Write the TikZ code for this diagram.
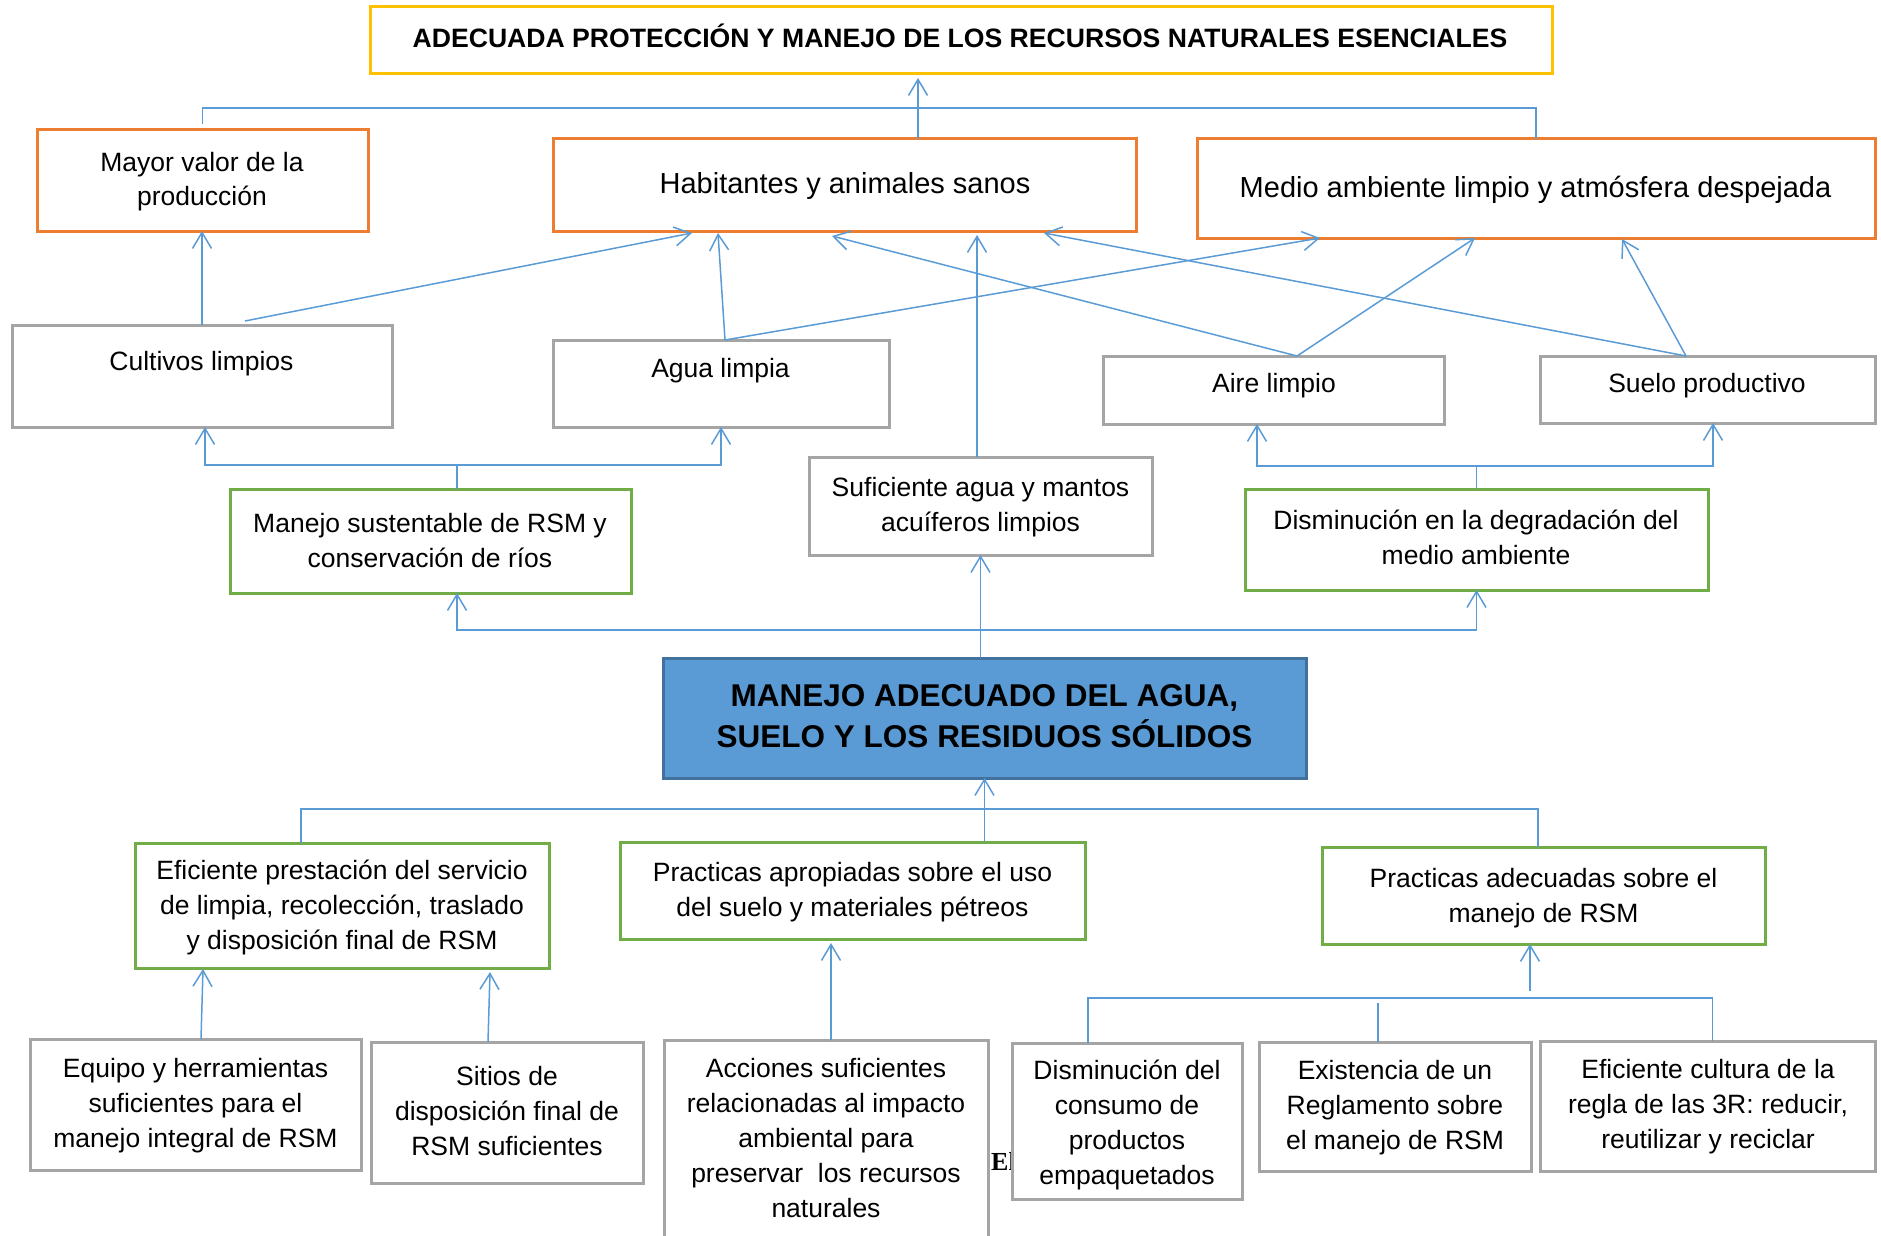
\documentclass[tikz,border=0pt]{standalone}
\usepackage{fontspec}
\setmainfont{Liberation Sans}
\newfontfamily\tnrfont{Liberation Serif}
\usetikzlibrary{arrows.meta}
\definecolor{lnblue}{HTML}{5B9BD5}
\definecolor{bxorange}{HTML}{ED7D31}
\definecolor{bxgreen}{HTML}{70AD47}
\definecolor{bxgray}{HTML}{A5A5A5}
\definecolor{bxgold}{HTML}{FFC000}
\definecolor{bxdark}{HTML}{41719C}
\definecolor{bxfill}{HTML}{5B9BD5}
\newcommand\tl[1]{\begin{tabular}[t]{@{}c@{}}#1\end{tabular}}
\begin{document}
\begin{tikzpicture}[x=1pt,y=-1pt,
 box/.style={draw, line width=3pt, fill=white, inner sep=0pt, outer sep=0pt},
 orbox/.style={box, draw=bxorange},
 grbox/.style={box, draw=bxgreen},
 gybox/.style={box, draw=bxgray},
 gdbox/.style={box, draw=bxgold},
 cenbox/.style={box, draw=bxdark, fill=bxfill},
 txt/.style={inner sep=0pt, outer sep=0pt, anchor=base, font=\fontsize{26.5}{35}\selectfont},
 bigtxt/.style={txt, font=\fontsize{29}{35}\selectfont},
 line/.style={draw=lnblue, line width=1.5pt},
 arr/.style={line, -{Straight Barb[length=16pt,width=19pt]}},
]
\useasboundingbox (0,0) rectangle (1881,1236);
\clip (0,0) rectangle (1881,1236);

% stray fragment partly hidden behind a box
\node[inner sep=0pt, anchor=base west, font=\tnrfont\bfseries\fontsize{26}{30}\selectfont] (frag) at (991,1170) {El};

% boxes
\node[gdbox, minimum width=1182pt, minimum height=67pt] (top) at (961,40.5) {};
\node[orbox, minimum width=331pt, minimum height=101pt] (mayor) at (202.5,180.5) {};
\node[orbox, minimum width=583pt, minimum height=92pt] (hab) at (844.5,185) {};
\node[orbox, minimum width=678pt, minimum height=99pt] (medio) at (1536,188.5) {};
\node[gybox, minimum width=380pt, minimum height=102pt] (cult) at (202,376) {};
\node[gybox, minimum width=336pt, minimum height=87pt] (agua) at (721,383.5) {};
\node[gybox, minimum width=341pt, minimum height=68pt] (aire) at (1273.5,390) {};
\node[gybox, minimum width=335pt, minimum height=67pt] (suelo) at (1707.5,389.5) {};
\node[gybox, minimum width=343pt, minimum height=98pt] (suf) at (980.5,506) {};
\node[grbox, minimum width=401pt, minimum height=104pt] (manejo) at (430.5,541) {};
\node[grbox, minimum width=463pt, minimum height=101pt] (dism) at (1476.5,539.5) {};
\node[cenbox, minimum width=643pt, minimum height=120pt] (central) at (984.5,718) {};
\node[grbox, minimum width=414pt, minimum height=125pt] (efic) at (342,905.5) {};
\node[grbox, minimum width=465pt, minimum height=97pt] (prac1) at (852.5,890.5) {};
\node[grbox, minimum width=443pt, minimum height=97pt] (prac2) at (1543.5,895.5) {};
\node[gybox, minimum width=331pt, minimum height=131pt] (equipo) at (195.5,1104.5) {};
\node[gybox, minimum width=272pt, minimum height=141pt] (sitios) at (507,1112.5) {};
\node[gybox, minimum width=324pt, minimum height=240pt] (acc) at (826,1160) {};
\node[gybox, minimum width=230pt, minimum height=156pt] (cons) at (1127,1121) {};
\node[gybox, minimum width=272pt, minimum height=129pt] (exist) at (1395,1106.5) {};
\node[gybox, minimum width=335pt, minimum height=130pt] (cultura) at (1707.5,1106) {};

% texts
\node[txt, font=\bfseries\fontsize{26.6}{32}\selectfont] (t-top) at (960,48) {ADECUADA PROTECCIÓN Y MANEJO DE LOS RECURSOS NATURALES ESENCIALES};
\node[txt] (t-mayor) at (202,171) {\tl{Mayor valor de la\\producción}};
\node[bigtxt] (t-hab) at (845,193) {Habitantes y animales sanos};
\node[bigtxt] (t-medio) at (1535.5,197) {Medio ambiente limpio y atmósfera despejada};
\node[txt] (t-cult) at (201.5,370) {Cultivos limpios};
\node[txt] (t-agua) at (720.5,377) {Agua limpia};
\node[txt] (t-aire) at (1274,392) {Aire limpio};
\node[txt] (t-suelo) at (1707,392) {Suelo productivo};
\node[txt] (t-suf) at (980.5,496) {\tl{Suficiente agua y mantos\\acuíferos limpios}};
\node[txt] (t-manejo) at (430,532) {\tl{Manejo sustentable de RSM y\\conservación de ríos}};
\node[txt] (t-dism) at (1476,529.5) {\tl{Disminución en la degradación del\\medio ambiente}};
\node[txt, font=\bfseries\fontsize{31.5}{41}\selectfont] (t-central) at (984.5,706) {\tl{MANEJO ADECUADO DEL AGUA,\\SUELO Y LOS RESIDUOS SÓLIDOS}};
\node[txt] (t-efic) at (342,879) {\tl{Eficiente prestación del servicio\\de limpia, recolección, traslado\\y disposición final de RSM}};
\node[txt] (t-prac1) at (852.5,881) {\tl{Practicas apropiadas sobre el uso\\del suelo y materiales pétreos}};
\node[txt] (t-prac2) at (1543.5,887) {\tl{Practicas adecuadas sobre el\\manejo de RSM}};
\node[txt] (t-equipo) at (195.5,1077) {\tl{Equipo y herramientas\\suficientes para el\\manejo integral de RSM}};
\node[txt] (t-sitios) at (507,1085) {\tl{Sitios de\\disposición final de\\RSM suficientes}};
\node[txt] (t-acc) at (826,1077) {\tl{Acciones suficientes\\relacionadas al impacto\\ambiental para\\preservar\ \ los recursos\\naturales}};
\node[txt] (t-cons) at (1127,1079) {\tl{Disminución del\\consumo de\\productos\\empaquetados}};
\node[txt] (t-exist) at (1395,1079) {\tl{Existencia de un\\Reglamento sobre\\el manejo de RSM}};
\node[txt] (t-cultura) at (1708,1078) {\tl{Eficiente cultura de la\\regla de las 3R: reducir,\\reutilizar y reciclar}};

% top level connectors
\draw[line] ([yshift=6pt]mayor.north) -- ++(0,-16) -| (medio.north);
\draw[arr] ([xshift=73.5pt]hab.north) -- ++(0,-61);

% into orange boxes
\draw[arr] (cult.north) -- (cult.north |- mayor.south);
\draw[arr] ([xshift=43pt,yshift=4pt]cult.north) -- ([xshift=-152.5pt,yshift=-2pt]hab.south);
\draw[arr] ([xshift=4pt]agua.north) -- ([xshift=-126.5pt,yshift=-2pt]hab.south);
\draw[arr] ([xshift=4pt]agua.north) -- ([xshift=-216pt]medio.south);
\draw[arr] ([xshift=23.5pt]aire.north) -- ([xshift=-12.5pt,yshift=-5pt]hab.south);
\draw[arr] ([xshift=23.5pt]aire.north) -- ([xshift=-61pt]medio.south);
\draw[arr] ([xshift=-21.5pt]suelo.north) -- ([xshift=199.5pt,yshift=-2pt]hab.south);
\draw[arr] ([xshift=-21.5pt]suelo.north) -- ([xshift=86pt,yshift=-1pt]medio.south);
\draw[arr] ([xshift=-3.5pt]suf.north) -- ++(0,-222);

% middle level
\draw[arr] ([xshift=26.5pt]manejo.north) -- ++(0,-24) -| ([xshift=3pt]cult.south);
\draw[arr] ([xshift=26.5pt]manejo.north) ++(0,-24) -| (agua.south);
\draw[arr] (dism.north) -- ++(0,-23) -| ([xshift=-16.5pt]aire.south);
\draw[arr] (dism.north) ++(0,-23) -| ([xshift=5.5pt]suelo.south);
\draw[arr] (central.north -| suf.south) -- (suf.south);
\draw[arr] (central.north -| suf.south) ++(0,-28) -| ([xshift=26.5pt]manejo.south);
\draw[arr] (central.north -| suf.south) ++(0,-28) -| (dism.south);

% bottom level
\draw[line] ([xshift=-41pt]efic.north) -- ++(0,-34) -| ([xshift=-5.5pt]prac2.north);
\draw[arr] (prac1.north -| central.south) -- (central.south);
\draw[arr] ([xshift=5.5pt]equipo.north) -- ([xshift=-139pt,yshift=-1pt]efic.south);
\draw[arr] ([xshift=-19pt]sitios.north) -- ([xshift=148pt,yshift=-4pt]efic.south);
\draw[arr] ([xshift=5pt]acc.north) -- ([xshift=-21.5pt,yshift=-4pt]prac1.south);
\draw[line] ([xshift=-39pt]cons.north) -- ++(0,-45) -| ([xshift=5pt]cultura.north);
\draw[line] ([xshift=-17pt]exist.north) -- ++(0,-39);
\draw[arr] ([xshift=-13.5pt,yshift=-47pt]prac2.south) -- ([xshift=-13.5pt]prac2.south);
\end{tikzpicture}
\end{document}
